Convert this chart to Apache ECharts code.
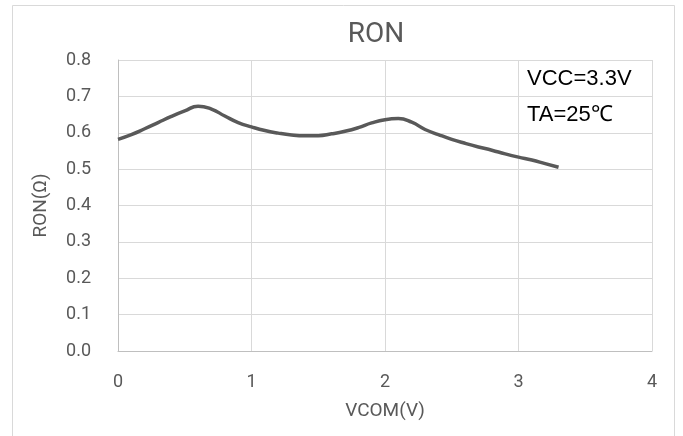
<!DOCTYPE html>
<html>
<head>
<meta charset="utf-8">
<script src="https://cdn.jsdelivr.net/npm/echarts@6/dist/echarts.min.js"></script>
<style>
html,body{margin:0;padding:0;background:#fff;}
#c{width:683px;height:436px;}
</style>
</head>
<body>
<div id="c"></div>
<script>
var vcom = [0.0,0.1,0.2,0.3,0.4,0.5,0.6,0.7,0.8,0.9,1.0,1.1,1.2,1.3,1.4,1.5,1.6,1.7,1.8,1.9,2.0,2.1,2.2,2.3,2.4,2.5,2.6,2.7,2.8,2.9,3.0,3.1,3.2,3.3];
var ron  = [0.582,0.595,0.611,0.628,0.645,0.660,0.673,0.665,0.646,0.628,0.616,0.606,0.599,0.594,0.592,0.592,0.597,0.604,0.614,0.627,0.636,0.639,0.629,0.609,0.595,0.582,0.571,0.561,0.552,0.542,0.533,0.525,0.515,0.505];
var xTicks = [0,1,2,3,4];
var yTicks = [0.0,0.1,0.2,0.3,0.4,0.5,0.6,0.7,0.8];
var titleText = 'RON';
var xName = 'VCOM(V)';
var yName = 'RON(Ω)';
var notes = ['VCC=3.3V','TA=25℃'];

var chart = echarts.init(document.getElementById('c'), null, {renderer:'canvas'});
var pts = vcom.map(function(v,i){return [v, ron[i]];});
var labelFont = 'Roboto, "Liberation Sans", sans-serif';
chart.setOption({
  animation:false,
  backgroundColor:'#fff',
  title:{
    text:titleText, left:371, top:16, textAlign:'center',
    textStyle:{fontFamily:labelFont, fontSize:28, fontWeight:'normal', color:'#595959'}
  },
  grid:{left:118, right:31, top:60, bottom:85, containLabel:false},
  xAxis:{
    type:'value', min:xTicks[0], max:xTicks[xTicks.length-1], interval:1,
    name:xName, nameLocation:'middle', nameGap:51,
    nameTextStyle:{fontFamily:labelFont, fontSize:19, color:'#595959'},
    axisLine:{show:true, lineStyle:{color:'#bfbfbf', width:1}},
    axisTick:{show:false},
    axisLabel:{fontFamily:labelFont, fontSize:18, color:'#595959', margin:22},
    splitLine:{show:true, lineStyle:{color:'#d9d9d9', width:1}}
  },
  yAxis:{
    type:'value', min:yTicks[0], max:yTicks[yTicks.length-1], interval:0.1,
    name:yName, nameLocation:'middle', nameGap:67, nameRotate:90,
    nameTextStyle:{fontFamily:labelFont, fontSize:19, color:'#595959'},
    axisLine:{show:true, lineStyle:{color:'#bfbfbf', width:1}},
    axisTick:{show:false},
    axisLabel:{fontFamily:labelFont, fontSize:18, color:'#595959', margin:27,
      formatter:function(v){return v.toFixed(1);}},
    splitLine:{show:true, lineStyle:{color:'#d9d9d9', width:1}}
  },
  graphic:[
    {type:'rect', shape:{x:12.5, y:5.5, width:662, height:460}, style:{fill:'none', stroke:'#d9d9d9', lineWidth:1}, silent:true},
    {type:'text', left:527, top:68, style:{text:notes[0], fontFamily:'"Liberation Sans", Arial, sans-serif', fontSize:22, fill:'#000'}},
    {type:'text', left:527, top:104, style:{text:notes[1], fontFamily:'"Liberation Sans", Arial, sans-serif', fontSize:22, fill:'#000'}}
  ],
  series:[{
    type:'line', data:pts, smooth:0.5, showSymbol:false, symbol:'none',
    lineStyle:{color:'#595959', width:3.5}
  }]
});
</script>
</body>
</html>
